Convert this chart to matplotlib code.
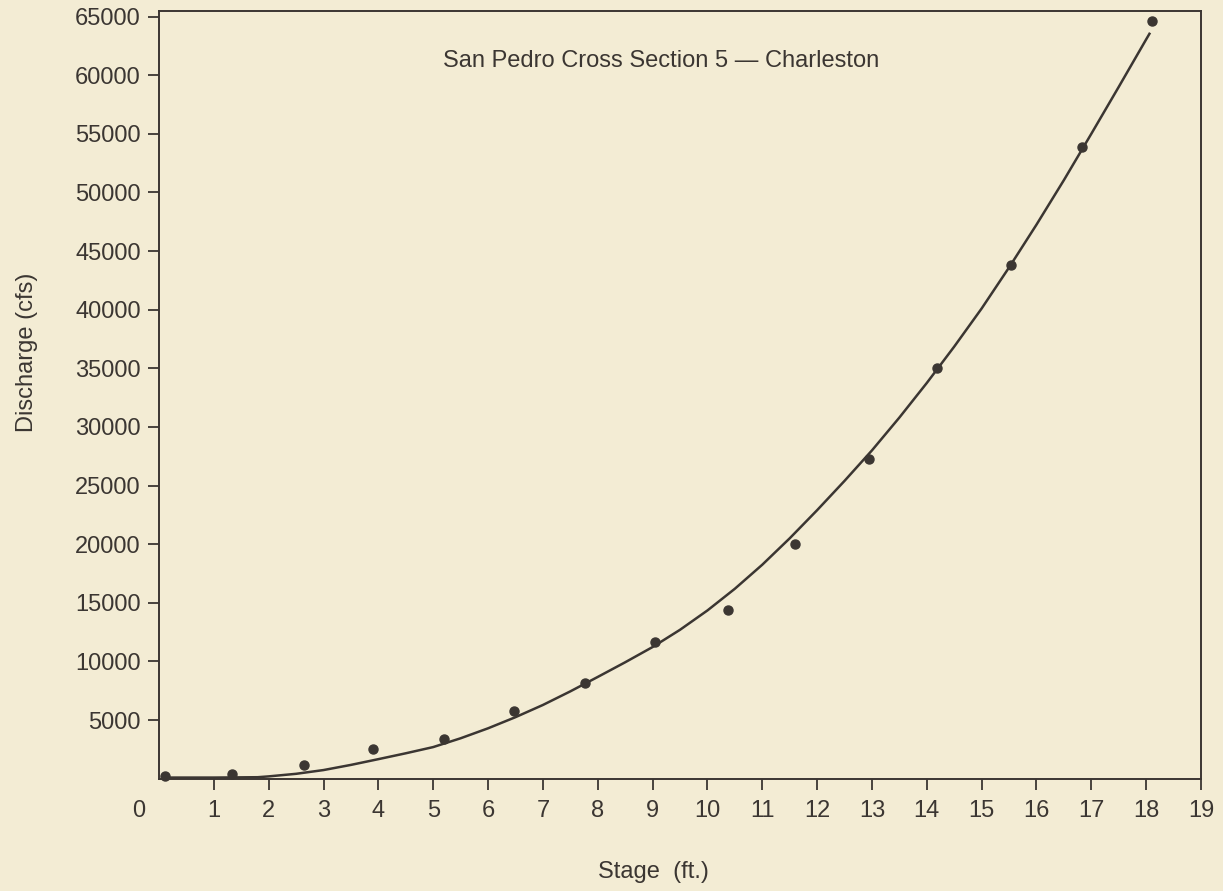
import numpy as np
import matplotlib.pyplot as plt

# measured stage / discharge points
stage = [0.11, 1.33, 2.64, 3.90, 5.20, 6.48, 7.76, 9.04, 10.38, 11.60,
         12.94, 14.18, 15.53, 16.83, 18.11]
discharge = [220, 390, 1160, 2530, 3380, 5770, 8160, 11660, 14390, 20020,
             27270, 35000, 43800, 53900, 64580]

# rating curve as drawn on the chart
curve_stage = [0.15, 1.0, 1.8, 2.0, 2.5, 3, 3.5, 4, 4.5, 5, 5.5, 6, 6.5, 7,
               7.5, 8, 8.5, 9, 9.5, 10, 10.5, 11, 11.5, 12, 12.5, 13, 13.5,
               14, 14.5, 15, 15.5, 16, 16.5, 17, 17.5, 18, 18.06]
curve_q = [100, 100, 130, 200, 420, 740, 1180, 1670, 2170, 2700, 3450, 4300,
           5250, 6290, 7450, 8680, 9930, 11230, 12700, 14350, 16200, 18250,
           20500, 22900, 25400, 28000, 30800, 33750, 36850, 40100, 43600,
           47250, 51050, 55000, 59000, 63050, 63530]

title = 'San Pedro Cross Section 5 \u2014 Charleston'
xticks = list(range(1, 20))
yticks = list(range(5000, 65001, 5000))

bg = '#f3ecd4'
ink = '#3b3632'
fs = 17

plt.rcParams['font.family'] = ['Liberation Sans', 'DejaVu Sans']

fig = plt.figure(figsize=(12.23, 8.91), dpi=100, facecolor=bg)
ax = fig.add_axes([0.13, 0.126, 0.852, 0.862], facecolor=bg)

ax.plot(curve_stage, curve_q, color=ink, lw=1.8, solid_joinstyle='round')
ax.plot(stage, discharge, 'o', color=ink, ms=6.5, clip_on=False)

ax.set_xlim(0, 19)
ax.set_ylim(0, 65500)
ax.set_xticks(xticks)
ax.set_yticks(yticks)
ax.tick_params(direction='out', length=8, width=1.3, colors=ink,
               labelsize=fs, pad=5)
ax.tick_params(axis='x', pad=7)

# the "0" label sits left of the corner
ax.annotate('0', xy=(0, 0), xycoords=('data', 'axes fraction'),
            xytext=(-14.4, -15), textcoords='offset points',
            ha='center', va='top', fontsize=fs, color=ink)

for sp in ax.spines.values():
    sp.set_color(ink)
    sp.set_linewidth(1.4)

ax.text(0.482, 0.934, title, transform=ax.transAxes, ha='center', va='center',
        fontsize=fs, color=ink)

fig.text(0.022, 0.605, 'Discharge (cfs)', rotation=90, ha='center', va='center',
         fontsize=fs, color=ink)
fig.text(0.534, 0.021, 'Stage  (ft.)', ha='center', va='center',
         fontsize=fs, color=ink)

fig.savefig('out.png', dpi=100, facecolor=bg)
